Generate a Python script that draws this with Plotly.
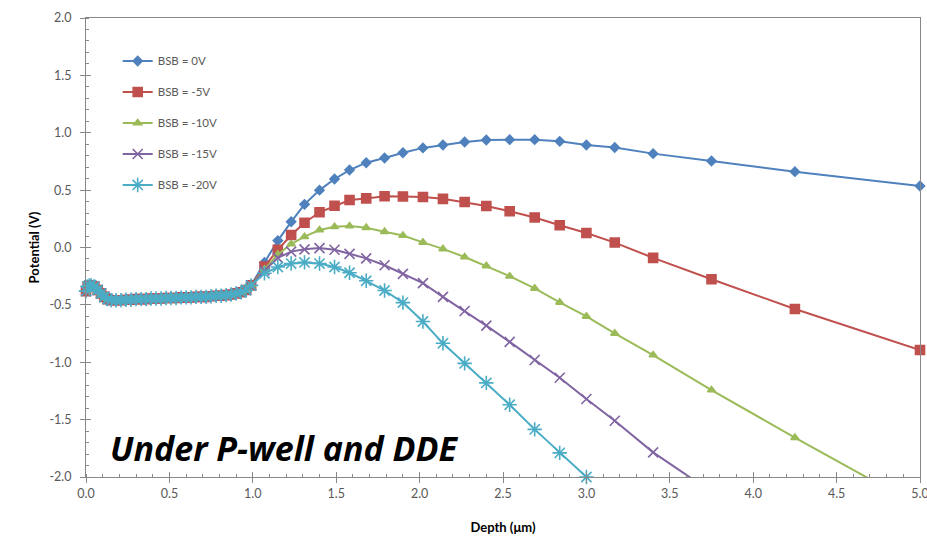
import plotly.graph_objects as go

# ---- data ----
early_depth = [0.00, 0.01, 0.02, 0.03, 0.05, 0.07, 0.09, 0.11, 0.13, 0.15, 0.18, 0.21,
               0.24, 0.27, 0.30, 0.33, 0.36, 0.39, 0.42, 0.45, 0.48, 0.51, 0.54, 0.57,
               0.60, 0.63, 0.66, 0.69, 0.72, 0.75, 0.78, 0.81, 0.84, 0.87, 0.90, 0.93,
               0.96, 0.99]
early_pot = [-0.38, -0.34, -0.33, -0.33, -0.34, -0.37, -0.40, -0.43, -0.45, -0.46, -0.46, -0.46,
             -0.455, -0.455, -0.45, -0.45, -0.45, -0.445, -0.445, -0.445, -0.44, -0.44, -0.44, -0.435,
             -0.435, -0.435, -0.43, -0.43, -0.43, -0.425, -0.42, -0.42, -0.415, -0.41, -0.40, -0.39,
             -0.37, -0.33]

depth = [1.07, 1.15, 1.23, 1.31, 1.40, 1.49, 1.58, 1.68, 1.79, 1.90, 2.02, 2.14,
         2.27, 2.40, 2.54, 2.69, 2.84, 3.00, 3.17, 3.40, 3.75, 4.25, 5.00]

bsb_0v = [-0.13, 0.06, 0.224, 0.376, 0.50, 0.597, 0.675, 0.739, 0.78, 0.826, 0.868, 0.893,
          0.919, 0.937, 0.94, 0.94, 0.925, 0.893, 0.871, 0.818, 0.754, 0.661, 0.536]
bsb_5v = [-0.167, -0.02, 0.109, 0.216, 0.307, 0.364, 0.414, 0.428, 0.446, 0.445, 0.440, 0.424,
          0.396, 0.362, 0.316, 0.262, 0.194, 0.127, 0.043, -0.09, -0.277, -0.536, -0.893]
bsb_10v = [-0.19, -0.06, 0.03, 0.094, 0.152, 0.181, 0.187, 0.173, 0.138, 0.105, 0.045, -0.012,
           -0.083, -0.16, -0.25, -0.356, -0.478, -0.60, -0.748, -0.937, -1.242, -1.657, -2.26]
bsb_15v = [-0.20, -0.09, -0.036, -0.016, -0.005, -0.02, -0.055, -0.095, -0.155, -0.23, -0.31, -0.43,
           -0.553, -0.681, -0.823, -0.98, -1.135, -1.32, -1.51, -1.785, -2.13]
bsb_20v = [-0.225, -0.17, -0.14, -0.13, -0.14, -0.17, -0.22, -0.29, -0.375, -0.48, -0.645, -0.835,
           -1.01, -1.18, -1.37, -1.585, -1.79, -2.0]

names = ["BSB = 0V", "BSB = -5V", "BSB = -10V", "BSB = -15V", "BSB = -20V"]
series = [bsb_0v, bsb_5v, bsb_10v, bsb_15v, bsb_20v]
colors = ["#4F81BD", "#C0504D", "#9BBB59", "#8064A2", "#4BACC6"]
symbols = ["diamond", "square", "triangle-up", "x-thin-open", "asterisk-open"]
sizes = [7, 9, 7, 10, 12]
clip = [False, False, True, True, False]

x_ticks = [0.0, 0.5, 1.0, 1.5, 2.0, 2.5, 3.0, 3.5, 4.0, 4.5, 5.0]
y_ticks = [2.0, 1.5, 1.0, 0.5, 0.0, -0.5, -1.0, -1.5, -2.0]

fig = go.Figure()
for i, (nm, vals) in enumerate(zip(names, series)):
    xs = early_depth + depth[:len(vals)]
    ys = early_pot + vals
    fig.add_trace(go.Scatter(
        x=xs, y=ys, name=nm, mode="lines+markers",
        line=dict(color=colors[i], width=2),
        marker=dict(symbol=symbols[i], size=sizes[i], color=colors[i],
                    line=dict(color=colors[i], width=1.6)),
        cliponaxis=clip[i], legendgroup=nm,
    ))

# overlay axes giving the inner half of the "cross" major ticks
fig.add_trace(go.Scatter(x=[], y=[], xaxis="x2", yaxis="y2", showlegend=False, hoverinfo="skip"))

axis_grey = "#888888"
tick_font = dict(family="Lato, Open Sans, sans-serif", size=12.5, color="#595959")
title_font = dict(family="Lato, Open Sans, sans-serif", size=13, color="#000000")

fig.update_layout(
    width=927, height=540,
    margin=dict(l=86, r=7, t=18, b=63),
    paper_bgcolor="white", plot_bgcolor="white",
    showlegend=True,
    legend=dict(x=0.038, y=0.938, xanchor="left", yanchor="top",
                font=dict(family="Lato, Open Sans, sans-serif", size=11.5, color="#595959"),
                bgcolor="rgba(0,0,0,0)", tracegroupgap=12, itemwidth=30),
    xaxis=dict(range=[0, 5], tickvals=x_ticks, ticktext=[f"{v:.1f}" for v in x_ticks],
               showgrid=False, zeroline=False, showline=True, linecolor=axis_grey, linewidth=1,
               mirror=True, ticks="outside", ticklen=5, tickcolor=axis_grey,
               minor=dict(ticks="inside", ticklen=3, dtick=0.1, tick0=0, tickcolor=axis_grey),
               tickfont=tick_font, ticklabeloverflow="allow", automargin=False,
               title=dict(text="<b>Depth (μm)</b>", font=title_font, standoff=22)),
    yaxis=dict(range=[-2, 2], tickvals=y_ticks, ticktext=[f"{v:.1f}" for v in y_ticks],
               showgrid=False, zeroline=False, showline=True, linecolor=axis_grey, linewidth=1,
               mirror=True, ticks="outside", ticklen=5, tickcolor=axis_grey,
               minor=dict(ticks="inside", ticklen=3, dtick=0.1, tick0=0, tickcolor=axis_grey),
               tickfont=tick_font, ticklabelstandoff=6, ticklabeloverflow="allow", automargin=False,
               title=dict(text="<b>Potential (V)</b>", font=title_font, standoff=6)),
    xaxis2=dict(range=[0, 5], overlaying="x", anchor="y2", side="bottom", tickvals=x_ticks,
                showticklabels=False, showgrid=False, zeroline=False, showline=False,
                ticks="inside", ticklen=5, tickcolor=axis_grey, automargin=False),
    yaxis2=dict(range=[-2, 2], overlaying="y", anchor="x2", side="left", tickvals=y_ticks,
                showticklabels=False, showgrid=False, zeroline=False, showline=False,
                ticks="inside", ticklen=5, tickcolor=axis_grey, automargin=False),
    annotations=[dict(
        text="<b><i>Under P-well and DDE</i></b>", xref="paper", yref="paper",
        x=0.026, y=0.063, xanchor="left", yanchor="middle", showarrow=False,
        font=dict(family="Open Sans, Lato, sans-serif", size=34, color="#000000"),
    )],
)

fig.write_html("out.html")
